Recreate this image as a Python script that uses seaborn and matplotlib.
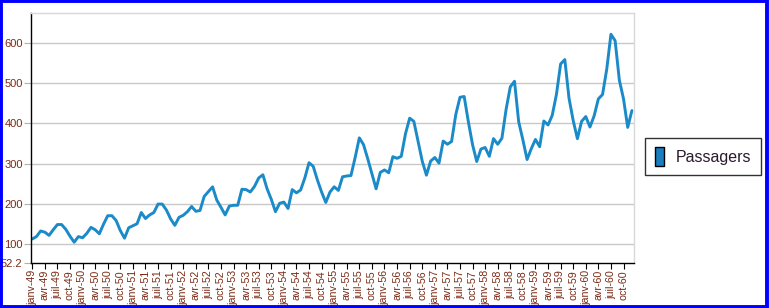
import matplotlib
matplotlib.use("Agg")
import matplotlib.pyplot as plt
import seaborn as sns
import pandas as pd
import numpy as np
from matplotlib.patches import Rectangle, Patch

sns.set_style("white")
plt.rcParams['font.family'] = ['Liberation Sans', 'DejaVu Sans']

years = ['49', '50', '51', '52', '53', '54', '55', '56', '57', '58', '59', '60']
months = ['janv', 'févr', 'mars', 'avr', 'mai', 'juin', 'juil', 'août', 'sept', 'oct', 'nov', 'déc']
quarter_months = ['janv', 'avr', 'juil', 'oct']

p1949 = [112, 118, 132, 129, 121, 135, 148, 148, 136, 119, 104, 118]
p1950 = [115, 126, 141, 135, 125, 149, 170, 170, 158, 133, 114, 140]
p1951 = [145, 150, 178, 163, 172, 178, 199, 199, 184, 162, 146, 166]
p1952 = [171, 180, 193, 181, 183, 218, 230, 242, 209, 191, 172, 194]
p1953 = [196, 196, 236, 235, 229, 243, 264, 272, 237, 211, 180, 201]
p1954 = [204, 188, 235, 227, 234, 264, 302, 293, 259, 229, 203, 229]
p1955 = [242, 233, 267, 269, 270, 315, 364, 347, 312, 274, 237, 278]
p1956 = [284, 277, 317, 313, 318, 374, 413, 405, 355, 306, 271, 306]
p1957 = [315, 301, 356, 348, 355, 422, 465, 467, 404, 347, 305, 336]
p1958 = [340, 318, 362, 348, 363, 435, 491, 505, 404, 359, 310, 337]
p1959 = [360, 342, 406, 396, 420, 472, 548, 559, 463, 407, 362, 405]
p1960 = [417, 391, 419, 461, 472, 535, 622, 606, 508, 461, 390, 432]

yticks = [52.2, 100, 200, 300, 400, 500, 600]
ymin, ymax = 52.2, 675

values = (p1949 + p1950 + p1951 + p1952 + p1953 + p1954 + p1955 + p1956
          + p1957 + p1958 + p1959 + p1960)
labels = [f"{m}-{y}" for y in years for m in months]
df = pd.DataFrame({'idx': range(len(values)), 'Passagers': values, 'label': labels})

fig = plt.figure(figsize=(7.69, 3.08), dpi=100)
ax = fig.add_axes([31/769, 1-263/308, (634-31)/769, (263-13)/308])

line_color = '#1a8ac8'
sns.lineplot(data=df, x='idx', y='Passagers', ax=ax, color=line_color, lw=2.1, legend=False)

ax.set_xlim(-0.3, len(values) - 0.5)
ax.set_ylim(ymin, ymax)

tick_color = '#7a2a14'
ax.set_yticks(yticks)
ax.set_yticklabels([("52.2" if t == 52.2 else str(int(t))) for t in yticks])
qidx = [i for i, l in enumerate(labels) if l.split('-')[0] in quarter_months]
ax.set_xticks(qidx)
ax.set_xticklabels([labels[i] for i in qidx], rotation=90)

ax.tick_params(axis='x', direction='out', length=4, width=0.8, color='black',
               labelsize=7.7, labelcolor=tick_color, pad=1, bottom=True)
ax.tick_params(axis='y', direction='out', length=5, width=0.8, color='#b0b0b0',
               labelsize=8, labelcolor=tick_color, pad=1, left=True)

for y in yticks[1:]:
    ax.axhline(y, color='#c8c8c8', lw=1, zorder=0)

ax.set_xlabel('')
ax.set_ylabel('')
for s in ['top', 'right']:
    ax.spines[s].set_color('#d8d8d8')
    ax.spines[s].set_linewidth(1)
for s in ['left', 'bottom']:
    ax.spines[s].set_color('black')
    ax.spines[s].set_linewidth(1)

handle = Patch(facecolor='#1a7fc0', edgecolor='black', linewidth=1, label='Passagers')
leg = fig.legend(handles=[handle], loc='center', bbox_to_anchor=(703/769, 1-156.5/308),
                 frameon=True, fancybox=False, fontsize=11.5, handlelength=0.6,
                 handleheight=1.4, handletextpad=0.7, borderpad=0.6, borderaxespad=0)
leg.get_frame().set_edgecolor('black')
leg.get_frame().set_linewidth(1)
for t in leg.get_texts():
    t.set_color('#2a1a30')

fig.patches.append(Rectangle((0.001, 0.004), 0.997, 0.993, transform=fig.transFigure,
                             fill=False, edgecolor='#0000ff', linewidth=2.8))

fig.savefig('out.png', dpi=100)
